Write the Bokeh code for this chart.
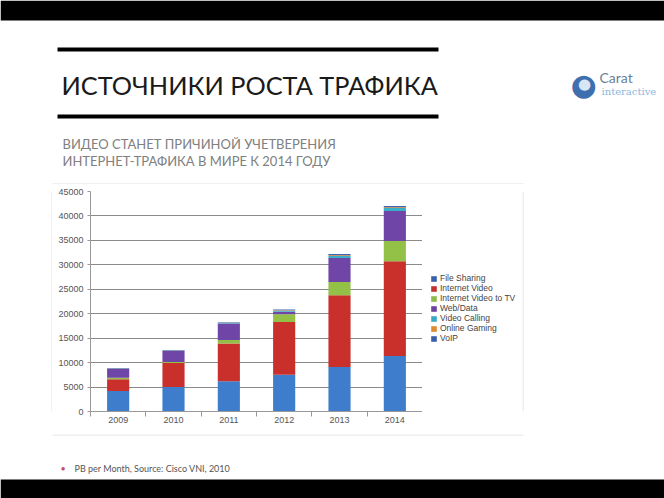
from bokeh.plotting import figure
from bokeh.models import (ColumnDataSource, Label, Legend, LegendItem, FixedTicker,
                          NumeralTickFormatter, Range1d)
from bokeh.layouts import column, row
from bokeh.embed import file_html
from bokeh.resources import INLINE

# ---- data ----
years = [2009, 2010, 2011, 2012, 2013, 2014]
file_sharing = [4200, 5000, 6200, 7500, 9100, 11350]
internet_video = [2400, 4900, 7700, 10800, 14700, 19400]
internet_video_tv = [300, 200, 700, 1600, 2700, 4100]
web_data = [1800, 2300, 3400, 500, 4900, 6150]
video_calling = [50, 50, 100, 200, 400, 600]
online_gaming = [50, 50, 50, 100, 150, 200]
voip = [100, 100, 100, 150, 250, 250]
series_names = ["File Sharing", "Internet Video", "Internet Video to TV", "Web/Data",
                "Video Calling", "Online Gaming", "VoIP"]
y_ticks = [0, 5000, 10000, 15000, 20000, 25000, 30000, 35000, 40000, 45000]

title_text = "ИСТОЧНИКИ РОСТА ТРАФИКА"
subtitle_lines = ["ВИДЕО СТАНЕТ ПРИЧИНОЙ УЧЕТВЕРЕНИЯ", "ИНТЕРНЕТ-ТРАФИКА В МИРЕ К 2014 ГОДУ"]
footer_text = "PB per Month, Source: Cisco VNI, 2010"

colors = ["#3d7dcc", "#c9302c", "#93c047", "#6f45a8", "#3ab0c8", "#e8892b", "#3a64b0"]
legend_colors = ["#3a62a8", "#c0332e", "#8db84a", "#6a44a0", "#3aa9c4", "#e08a30", "#3a5ea8"]
keys = ["fs", "iv", "ivtv", "wd", "vc", "og", "voip"]
source = ColumnDataSource(dict(x=years, fs=file_sharing, iv=internet_video,
                               ivtv=internet_video_tv, wd=web_data, vc=video_calling,
                               og=online_gaming, voip=voip))

BOX = "#e0e0e0"


def deco_fig(x0, y0, w, h):
    f = figure(width=w, height=h, output_backend="svg", toolbar_location=None,
               x_range=Range1d(x0, x0 + w), y_range=Range1d(y0 + h, y0),
               min_border=0, outline_line_color=None, background_fill_color="white",
               border_fill_color="white")
    f.axis.visible = False
    f.grid.visible = False
    return f


def lab(f, x, y, text, **kw):
    f.add_layout(Label(x=x, y=y, text=text, text_baseline="middle", **kw))


# ---- header (canvas rows 0..183) ----
head = deco_fig(0, 0, 664, 184)
head.quad(left=[0, 57, 57], right=[664, 438, 438], top=[0, 47, 114], bottom=[20, 51, 118],
          color="black", line_color=None)
head.segment(x0=[52], y0=[183.5], x1=[523], y1=[183.5], line_color=BOX, line_width=1)
lab(head, 61, 84, title_text, text_font="Lato", text_font_size="25.3px", text_color="#1a1a1a")
lab(head, 62, 143, subtitle_lines[0], text_font="Lato", text_font_size="13px",
    text_color="#808080")
lab(head, 62, 160, subtitle_lines[1], text_font="Lato", text_font_size="13px",
    text_color="#808080")
# logo
lab(head, 583, 84, "●", text_font="DejaVu Sans", text_font_size="30px", text_color="#3f6fae",
    text_align="center")
lab(head, 584, 83, "●", text_font="DejaVu Sans", text_font_size="15px", text_color="#d6e6f5",
    text_align="center")
lab(head, 599, 77, "Carat", text_font="Lato", text_font_size="14px", text_color="#6b7f99")
lab(head, 601, 91, "interactive", text_font="DejaVu Serif", text_font_size="10px",
    text_color="#8ab8de")

# ---- chart (canvas x 52..421, rows 184..433) ----
p = figure(width=370, height=250, output_backend="svg", toolbar_location=None,
           x_range=(2008.5, 2014.5), y_range=(0, 45000),
           min_border_left=38, min_border_right=0, min_border_top=7,
           min_border_bottom=23, background_fill_color="white",
           border_fill_color="white", outline_line_color=None)

p.vbar_stack(keys, x="x", width=0.4, color=colors, source=source, line_color=None)

p.yaxis.ticker = FixedTicker(ticks=y_ticks)
p.yaxis.formatter = NumeralTickFormatter(format="0")
p.yaxis.major_label_text_font = "Liberation Sans"
p.yaxis.major_label_text_font_size = "9px"
p.yaxis.major_label_text_color = "#555555"
p.yaxis.axis_line_color = "#999999"
p.yaxis.major_tick_line_color = "#999999"
p.yaxis.major_tick_out = 3
p.yaxis.major_tick_in = 0
p.yaxis.minor_tick_line_color = None
p.yaxis.major_label_standoff = 4

p.xaxis.ticker = FixedTicker(ticks=years, minor_ticks=[y - 0.5 for y in years] + [2014.5])
p.xaxis.major_label_text_font = "Liberation Sans"
p.xaxis.major_label_text_font_size = "9px"
p.xaxis.major_label_text_color = "#555555"
p.xaxis.axis_line_color = "#999999"
p.xaxis.major_tick_line_color = None
p.xaxis.major_tick_out = 0
p.xaxis.major_tick_in = 0
p.xaxis.minor_tick_line_color = "#999999"
p.xaxis.minor_tick_out = 5
p.xaxis.minor_tick_in = 0
p.xaxis.major_label_standoff = 0

p.xgrid.grid_line_color = None
p.ygrid.grid_line_color = "#8a8a8a"
p.ygrid.grid_line_width = 1

# ---- legend panel (canvas x 422..521); its bars lie outside its visible range ----
lf = deco_fig(422, 184, 100, 250)
leg_renderers = [lf.vbar(x="x", top=k, width=0.4, source=source, color=c, line_color=None)
                 for k, c in zip(keys, legend_colors)]
items = [LegendItem(label=n, renderers=[r]) for n, r in zip(series_names, leg_renderers)]
legend = Legend(items=items, location=(8, 68), label_text_font="Liberation Sans",
                label_text_font_size="8.5px", label_text_color="#444444",
                glyph_width=7, glyph_height=7, label_height=8, spacing=0,
                padding=0, margin=0, border_line_color=None,
                background_fill_alpha=0, label_standoff=3)
lf.add_layout(legend, "center")

# side fillers with chart box edges
left_fig = deco_fig(0, 184, 52, 250)
left_fig.segment(x0=[51.5], y0=[184], x1=[51.5], y1=[434], line_color=BOX, line_width=1)
right_fig = deco_fig(522, 184, 142, 250)
right_fig.segment(x0=[522.5], y0=[184], x1=[522.5], y1=[434], line_color=BOX, line_width=1)

mid = row(left_fig, p, lf, right_fig, spacing=0)

# ---- footer (canvas rows 434..497) ----
foot = deco_fig(0, 434, 664, 64)
foot.quad(left=[0], right=[664], top=[479], bottom=[498], color="black", line_color=None)
foot.segment(x0=[52], y0=[434.5], x1=[523], y1=[434.5], line_color=BOX, line_width=1)
lab(foot, 60, 468, "•", text_font="Lato", text_font_size="9px", text_color="#c0506a")
lab(foot, 74, 468, footer_text, text_font="Lato", text_font_size="9px", text_color="#555555")

layout = column(head, mid, foot, spacing=0)
open("out.html", "w").write(file_html(layout, INLINE))
